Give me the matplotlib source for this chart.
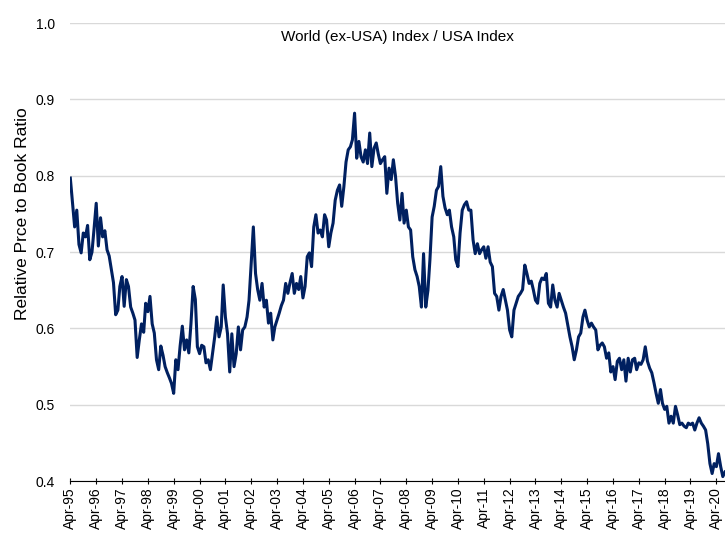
import pandas as pd
import matplotlib.pyplot as plt
import matplotlib.dates as mdates

# Relative price to book: World (ex-USA) / USA, monthly from Apr-95
inicio = "1995-04-01"
valores = [
    0.797, 0.765, 0.733, 0.755, 0.710, 0.699, 0.725, 0.720, 0.735,   # Apr-95 .. Dec-95
    0.690, 0.700, 0.730, 0.764, 0.708, 0.745, 0.720, 0.728, 0.703, 0.695, 0.677, 0.660,  # 1996
    0.618, 0.624, 0.655, 0.668, 0.629, 0.664, 0.655, 0.628, 0.620, 0.611, 0.562, 0.585,  # 1997
    0.606, 0.595, 0.633, 0.622, 0.642, 0.606, 0.594, 0.559, 0.546, 0.577, 0.565, 0.550,  # 1998
    0.542, 0.535, 0.528, 0.515, 0.559, 0.546, 0.577, 0.603, 0.572, 0.585, 0.568, 0.606,  # 1999
    0.655, 0.638, 0.576, 0.567, 0.578, 0.576, 0.555, 0.559, 0.546, 0.567, 0.589, 0.615,  # 2000
    0.589, 0.602, 0.657, 0.615, 0.593, 0.543, 0.593, 0.550, 0.567, 0.602, 0.572, 0.598,  # 2001
    0.602, 0.615, 0.637, 0.686, 0.733, 0.672, 0.651, 0.637, 0.659, 0.628, 0.637, 0.607,  # 2002
    0.620, 0.585, 0.602, 0.611, 0.620, 0.630, 0.637, 0.659, 0.646, 0.660, 0.672, 0.646,  # 2003
    0.659, 0.651, 0.668, 0.640, 0.655, 0.694, 0.699, 0.681, 0.733, 0.749, 0.725, 0.729,  # 2004
    0.720, 0.749, 0.742, 0.707, 0.725, 0.738, 0.768, 0.781, 0.788, 0.760, 0.786, 0.818,  # 2005
    0.834, 0.838, 0.847, 0.882, 0.823, 0.845, 0.825, 0.818, 0.834, 0.816, 0.856, 0.812,  # 2006
    0.836, 0.843, 0.829, 0.816, 0.821, 0.825, 0.777, 0.810, 0.795, 0.821, 0.799, 0.764,  # 2007
    0.742, 0.777, 0.738, 0.755, 0.733, 0.729, 0.694, 0.677, 0.668, 0.655, 0.628, 0.698,  # 2008
    0.628, 0.650, 0.690, 0.746, 0.760, 0.781, 0.786, 0.812, 0.773, 0.758, 0.749, 0.755,  # 2009
    0.733, 0.720, 0.690, 0.681, 0.725, 0.755, 0.762, 0.766, 0.755, 0.755, 0.716, 0.698,  # 2010
    0.711, 0.698, 0.703, 0.707, 0.692, 0.707, 0.687, 0.681, 0.646, 0.642, 0.624, 0.642,  # 2011
    0.651, 0.637, 0.624, 0.598, 0.589, 0.624, 0.633, 0.642, 0.646, 0.651, 0.683, 0.672,  # 2012
    0.659, 0.662, 0.651, 0.637, 0.633, 0.659, 0.666, 0.664, 0.672, 0.633, 0.628, 0.657,  # 2013
    0.637, 0.628, 0.646, 0.637, 0.628, 0.620, 0.605, 0.589, 0.576, 0.559, 0.572, 0.589,  # 2014
    0.594, 0.615, 0.624, 0.611, 0.602, 0.607, 0.602, 0.598, 0.572, 0.578, 0.581, 0.576,  # 2015
    0.561, 0.568, 0.543, 0.550, 0.533, 0.557, 0.561, 0.546, 0.559, 0.531, 0.561, 0.543,  # 2016
    0.559, 0.561, 0.546, 0.555, 0.553, 0.559, 0.576, 0.557, 0.548, 0.542, 0.529, 0.515,  # 2017
    0.502, 0.520, 0.502, 0.494, 0.498, 0.476, 0.485, 0.476, 0.498, 0.487, 0.474, 0.476,  # 2018
    0.472, 0.470, 0.476, 0.474, 0.476, 0.467, 0.476, 0.483, 0.476, 0.472, 0.467, 0.449,  # 2019
    0.423, 0.410, 0.423, 0.419, 0.436, 0.419, 0.406, 0.412,  # Jan-20 .. Aug-20
]

titulo = "World (ex-USA) Index / USA Index"
rotulo_y = "Relative Prce to Book Ratio"

datas = pd.date_range(inicio, periods=len(valores), freq="MS")

plt.rcParams['font.family'] = ['Liberation Sans', 'DejaVu Sans']

fig = plt.figure(figsize=(7.25, 5.37), dpi=100)
ax = fig.add_axes([0.097, 0.104, 0.903, 0.853])

ax.plot(datas, valores, color="#002060", linewidth=2.2)

ax.set_ylim(0.4, 1.0)
ax.set_yticks([0.4, 0.5, 0.6, 0.7, 0.8, 0.9, 1.0])
ax.yaxis.set_major_formatter(plt.FormatStrFormatter('%.1f'))
ax.set_xlim(datas[0], datas[-1])
ax.xaxis.set_major_locator(mdates.MonthLocator(bymonth=4))
ax.xaxis.set_major_formatter(mdates.DateFormatter('%b-%y'))
plt.setp(ax.get_xticklabels(), rotation=90)

ax.grid(axis='y', color='#d9d9d9', linewidth=1)
ax.set_axisbelow(True)
for lado in ['top', 'right', 'left']:
    ax.spines[lado].set_visible(False)
ax.spines['bottom'].set_color('black')
ax.tick_params(axis='y', length=0, pad=11, labelsize=10)
ax.tick_params(axis='x', length=5, direction='inout', labelsize=10, pad=2)

ax.text(0.5, 0.985, titulo, transform=ax.transAxes, ha='center', va='top', fontsize=11)
ax.set_ylabel(rotulo_y, fontsize=12.5)
ax.yaxis.set_label_coords(-0.062, 0.585)

plt.savefig('out.png', dpi=100)
